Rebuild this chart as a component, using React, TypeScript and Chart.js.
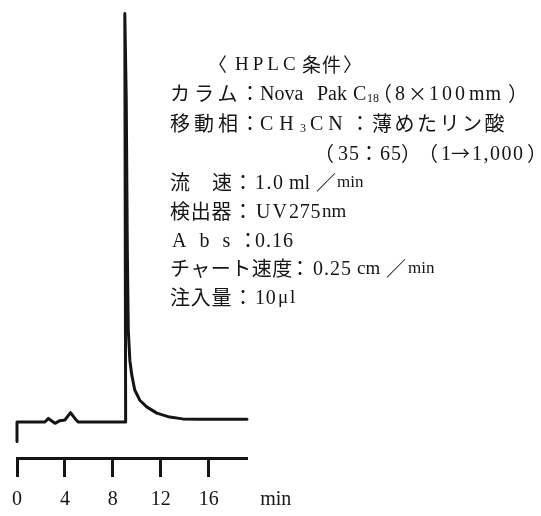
import React, { useEffect, useRef } from 'react';
import { Chart, registerables } from 'chart.js';

Chart.register(...registerables);

// Chromatogram trace: retention time (min) and detector response (chart divisions)
const TIME = [0, 0, 2.33, 2.61, 3.17, 3.58, 4.0, 4.47, 4.83, 5.1, 9.07, 9.0, 9.12, 9.21, 9.29, 9.42, 9.58, 9.83, 10.25, 10.83, 11.67, 12.75, 13.83, 15.25, 19.2];
const SIGNAL = [-4.4, 0, 0, 0.8, -0.3, 0.3, 0.45, 2.1, 0.8, 0, 0, 91.9, 72.4, 38.7, 20.7, 13.9, 10.6, 7.2, 4.9, 3.4, 2.0, 1.1, 0.7, 0.6, 0.6];

// Time axis
const TIME_TICKS = [0, 4, 8, 12, 16];
const TIME_MAX = 19.2;
const TIME_UNIT = 'min';
const TIME_UNIT_AT = 21.6;

// Detector response range shown
const SIGNAL_MIN = -8.1;
const SIGNAL_MAX = 92;

const J = '"Noto Sans CJK JP", "Noto Sans CJK SC", sans-serif';
const S = '"Liberation Serif", "DejaVu Serif", serif';
const INK = '#151515';

type Run = { t: string; x: number; f?: 'j' | 's'; s?: number; ls?: number; dy?: number };
type Line = { y: number; runs: Run[] };

// Analytical conditions block
const CONDITIONS: Line[] = [
  { y: 64, runs: [
    { t: '〈', x: 208, f: 'j', s: 19 },
    { t: 'HPLC', x: 235, s: 19, ls: 4 },
    { t: '条件', x: 302, f: 'j', s: 19, ls: 1 },
    { t: '〉', x: 343, f: 'j', s: 19 },
  ] },
  { y: 93, runs: [
    { t: 'カラム', x: 170, f: 'j', ls: 4 },
    { t: '：', x: 240, f: 'j' },
    { t: 'Nova ', x: 260 },
    { t: 'Pak ', x: 317 },
    { t: 'C', x: 353 },
    { t: '18', x: 367, s: 12, dy: 5 },
    { t: '（', x: 372, f: 'j' },
    { t: '8', x: 395 },
    { t: '×', x: 408, f: 'j', s: 19 },
    { t: '100', x: 429, ls: 3 },
    { t: 'mm', x: 469, ls: 1 },
    { t: '）', x: 508, f: 'j' },
  ] },
  { y: 123, runs: [
    { t: '移動相', x: 170, f: 'j', ls: 4 },
    { t: '：', x: 240, f: 'j' },
    { t: 'CH', x: 260, ls: 6 },
    { t: '3', x: 300, s: 12, dy: 5 },
    { t: 'CN', x: 310, ls: 5 },
    { t: '：', x: 350, f: 'j' },
    { t: '薄めたリン酸', x: 372, f: 'j', ls: 2.5 },
  ] },
  { y: 153, runs: [
    { t: '（', x: 314, f: 'j' },
    { t: '35', x: 338, ls: 1 },
    { t: '：', x: 359, f: 'j' },
    { t: '65', x: 380, ls: 1 },
    { t: '）', x: 401, f: 'j' },
    { t: '（', x: 418, f: 'j' },
    { t: '1', x: 441 },
    { t: '→', x: 451, f: 'j', s: 19 },
    { t: '1,000', x: 472, ls: 1.5 },
    { t: '）', x: 527, f: 'j' },
  ] },
  { y: 182, runs: [
    { t: '流', x: 170, f: 'j' },
    { t: '速', x: 212, f: 'j' },
    { t: '：', x: 233, f: 'j' },
    { t: '1.0', x: 255, ls: 1.5 },
    { t: 'ml', x: 289 },
    { t: '／', x: 316, f: 'j' },
    { t: 'min', x: 337, s: 17 },
  ] },
  { y: 211, runs: [
    { t: '検出器', x: 170, f: 'j', ls: 0.7 },
    { t: '：', x: 233, f: 'j' },
    { t: 'UV', x: 256, ls: 2 },
    { t: '275', x: 289, ls: 0.7 },
    { t: 'nm', x: 322, s: 19 },
  ] },
  { y: 240, runs: [
    { t: 'Abs', x: 172, ls: 13 },
    { t: '：', x: 238, f: 'j' },
    { t: '0.16', x: 255, ls: 1 },
  ] },
  { y: 268, runs: [
    { t: 'チャート速度', x: 170, f: 'j', ls: 0.5 },
    { t: '：', x: 290, f: 'j' },
    { t: '0.25', x: 313, ls: 1 },
    { t: 'cm', x: 357, s: 19 },
    { t: '／', x: 386, f: 'j' },
    { t: 'min', x: 408, s: 17 },
  ] },
  { y: 297, runs: [
    { t: '注入量', x: 170, f: 'j', ls: 0.7 },
    { t: '：', x: 233, f: 'j' },
    { t: '10', x: 255, ls: 0.7 },
    { t: 'μ', x: 278, s: 19 },
    { t: 'l', x: 290, s: 19 },
  ] },
];

const TICK_FONT = 20;
const TICK_LEN = 19;
const TICK_PAD = 11;

const unitLabel = {
  id: 'unitLabel',
  afterDraw(chart: Chart) {
    const xs = chart.scales.x;
    const ctx = chart.ctx;
    ctx.save();
    ctx.fillStyle = INK;
    ctx.font = `${TICK_FONT}px ${S}`;
    ctx.textAlign = 'center';
    ctx.textBaseline = 'middle';
    ctx.fillText(TIME_UNIT, xs.getPixelForValue(TIME_UNIT_AT), xs.top + TICK_LEN + TICK_PAD + TICK_FONT * 0.6);
    ctx.restore();
  },
};

export default function App() {
  const ref = useRef<HTMLCanvasElement | null>(null);

  useEffect(() => {
    const canvas = ref.current;
    if (!canvas) return;
    const chart = new Chart(canvas, {
      type: 'line',
      data: {
        datasets: [
          {
            data: TIME.map((t, i) => ({ x: t, y: SIGNAL[i] })),
            borderColor: INK,
            borderWidth: 3,
            borderJoinStyle: 'round',
            borderCapStyle: 'round',
            pointRadius: 0,
            tension: 0,
            fill: false,
            clip: false as any,
          },
        ],
      },
      options: {
        responsive: false,
        animation: false,
        events: [],
        layout: { padding: { left: 17, right: 294, top: 13, bottom: 0 } },
        plugins: { legend: { display: false }, tooltip: { enabled: false } },
        scales: {
          x: {
            type: 'linear',
            min: 0,
            max: TIME_MAX,
            afterBuildTicks: (s: any) => {
              s.ticks = TIME_TICKS.map((v) => ({ value: v }));
            },
            afterFit: (s: any) => {
              s.height = 58;
            },
            border: { display: true, color: INK, width: 3 },
            grid: {
              display: true,
              drawOnChartArea: false,
              drawTicks: true,
              tickLength: TICK_LEN,
              tickWidth: 3,
              tickColor: INK,
              color: INK,
            },
            ticks: {
              color: INK,
              font: { family: S, size: TICK_FONT },
              padding: TICK_PAD,
              maxRotation: 0,
              autoSkip: false,
            },
          },
          y: { display: false, min: SIGNAL_MIN, max: SIGNAL_MAX },
        },
      },
      plugins: [unitLabel],
    });
    return () => chart.destroy();
  }, []);

  return (
    <div style={{ position: 'absolute', left: 0, top: 0, width: 541, height: 516, background: '#fff', overflow: 'hidden' }}>
      <canvas ref={ref} width={541} height={516} style={{ display: 'block', position: 'absolute', left: 0, top: 0 }} />
      {CONDITIONS.map((line, li) => (
        <div key={li} style={{ position: 'absolute', left: 0, top: line.y, width: 541, height: 0, whiteSpace: 'nowrap', color: INK }}>
          {line.runs.map((r, ri) => {
            const size = r.s ?? 20;
            return (
              <span
                key={ri}
                style={{
                  position: 'absolute',
                  left: r.x,
                  top: -12 + (r.dy ?? 0),
                  height: 24,
                  lineHeight: '24px',
                  fontSize: size,
                  fontFamily: r.f === 'j' ? J : S,
                  letterSpacing: r.ls ? `${r.ls}px` : undefined,
                }}
              >
                {r.t}
              </span>
            );
          })}
        </div>
      ))}
    </div>
  );
}
